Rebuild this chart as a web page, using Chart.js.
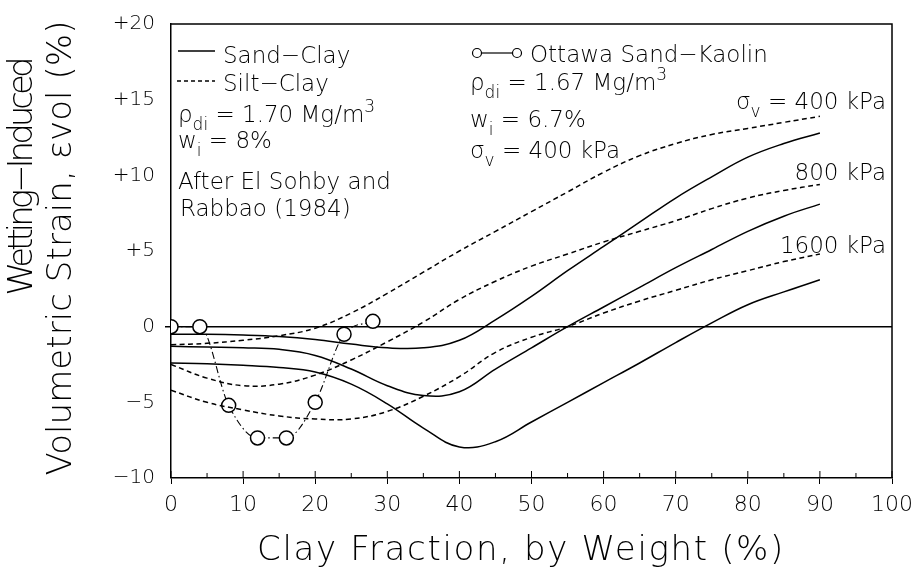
<!DOCTYPE html>
<html>
<head>
<meta charset="utf-8">
<script src="https://cdn.jsdelivr.net/npm/chart.js@4.4.1/dist/chart.umd.min.js"></script>
<style>
  html, body { margin: 0; padding: 0; background: #fff; }
  canvas { display: block; }
</style>
</head>
<body>
<canvas id="strainChart" width="921" height="570"></canvas>
<script>
// clay fraction (%) where the curves were read
var clayPct = [0, 5, 10, 15, 20, 25, 30, 35, 40, 45, 50, 55, 60, 65, 70, 75, 80, 85, 90];

// Sand-Clay (solid)
var sandClay400  = [-0.5, -0.5, -0.55, -0.65, -0.85, -1.15, -1.4, -1.4, -0.9, 0.45, 2.0, 3.7, 5.3, 6.9, 8.5, 9.9, 11.2, 12.1, 12.8];
var sandClay800  = [-1.3, -1.35, -1.4, -1.5, -1.9, -2.8, -3.9, -4.55, -4.3, -2.8, -1.4, 0.0, 1.3, 2.6, 3.9, 5.1, 6.3, 7.3, 8.1];
var sandClay1600 = [-2.4, -2.45, -2.55, -2.7, -3.0, -3.8, -5.1, -6.7, -7.95, -7.6, -6.3, -5.0, -3.7, -2.4, -1.05, 0.25, 1.45, 2.3, 3.1];

// Silt-Clay (dashed)
var siltClay400  = [-1.2, -1.1, -0.9, -0.6, -0.1, 0.9, 2.2, 3.6, 5.0, 6.3, 7.6, 8.9, 10.2, 11.3, 12.1, 12.7, 13.1, 13.5, 13.9];
var siltClay800  = [-2.5, -3.4, -3.9, -3.8, -3.2, -2.2, -1.0, 0.3, 1.8, 3.0, 4.0, 4.8, 5.6, 6.3, 7.0, 7.8, 8.5, 9.0, 9.4];
var siltClay1600 = [-4.2, -5.0, -5.5, -5.9, -6.1, -6.1, -5.6, -4.6, -3.3, -1.7, -0.7, 0.0, 0.9, 1.7, 2.4, 3.1, 3.7, 4.3, 4.8];

// Ottawa Sand-Kaolin (circles)
var ottawaPct    = [0, 4, 8, 12, 16, 20, 24, 28];
var ottawaStrain = [0, 0, -5.2, -7.35, -7.35, -5.0, -0.5, 0.35];

var yTickLabels = { '20': '+20', '15': '+15', '10': '+10', '5': '+5', '0': '0', '-5': '\u22125', '-10': '\u221210' };

var FONT = '"DejaVu Sans", sans-serif';

var toPoints = (xs, ys) => xs.map((x, i) => ({ x: x, y: ys[i] }));

var solid = (data) => ({ data: toPoints(clayPct, data), borderColor: '#000', borderWidth: 1.5, pointRadius: 0, tension: 0.4, fill: false });
var dashed = (data) => ({ data: toPoints(clayPct, data), borderColor: '#000', borderWidth: 1.5, borderDash: [5, 3.5], pointRadius: 0, tension: 0.4, fill: false });

// text with letter spacing stretched to a width
var spaced = (ctx, text, x, y, width) => {
  ctx.letterSpacing = '0px';
  var w = ctx.measureText(text).width;
  var n = Array.from(text).length;
  ctx.letterSpacing = ((width - w) / n) + 'px';
  ctx.fillText(text, x, y);
  ctx.letterSpacing = '0px';
};

// text with sub / superscripts: parts = [[text, 'sub'|'sup'|null], ...]
var rich = (ctx, parts, x, y, align) => {
  var big = '200 23px ' + FONT, small = '200 17px ' + FONT;
  var total = 0;
  parts.forEach(p => { ctx.font = p[1] ? small : big; total += ctx.measureText(p[0]).width; });
  var cx = align === 'right' ? x - total : x;
  ctx.textAlign = 'left';
  ctx.textBaseline = 'alphabetic';
  parts.forEach(p => {
    ctx.font = p[1] ? small : big;
    var dy = p[1] === 'sub' ? 8 : p[1] === 'sup' ? -10 : 0;
    ctx.fillText(p[0], cx, y + dy);
    cx += ctx.measureText(p[0]).width;
  });
};

var decorations = {
  id: 'decorations',
  afterDraw(chart) {
    var ctx = chart.ctx, a = chart.chartArea;
    var xs = chart.scales.x;
    ctx.save();
    ctx.strokeStyle = '#000';
    ctx.fillStyle = '#000';

    // frame top & right
    ctx.lineWidth = 1.5;
    ctx.beginPath();
    ctx.moveTo(a.left, a.top); ctx.lineTo(a.right, a.top); ctx.lineTo(a.right, a.bottom);
    ctx.stroke();

    // inner ticks on the x axis
    ctx.lineWidth = 1;
    xs.ticks.forEach(t => {
      var px = xs.getPixelForValue(t.value);
      var len = t.value % 10 === 0 ? 7 : 5;
      ctx.beginPath(); ctx.moveTo(px, a.bottom); ctx.lineTo(px, a.bottom - len); ctx.stroke();
    });

    // axis titles
    ctx.font = '200 34px ' + FONT;
    ctx.textAlign = 'center';
    ctx.textBaseline = 'alphabetic';
    spaced(ctx, 'Clay Fraction, by Weight (%)', 521, 560, 528);

    ctx.save();
    ctx.translate(23, 178); ctx.rotate(-Math.PI / 2);
    ctx.textBaseline = 'middle';
    spaced(ctx, 'Wetting\u2212Induced', 0, 0, 235);
    ctx.restore();
    ctx.save();
    ctx.translate(62, 248); ctx.rotate(-Math.PI / 2);
    ctx.textBaseline = 'middle';
    spaced(ctx, 'Volumetric Strain, \u03b5vol (%)', 0, 0, 455);
    ctx.restore();

    // key, left block
    ctx.lineWidth = 1.5;
    ctx.setLineDash([]);
    ctx.beginPath(); ctx.moveTo(178, 51); ctx.lineTo(215, 51); ctx.stroke();
    ctx.setLineDash([4, 3]);
    ctx.beginPath(); ctx.moveTo(177, 81); ctx.lineTo(215, 81); ctx.stroke();
    ctx.setLineDash([]);
    rich(ctx, [['Sand\u2212Clay']], 223, 63);
    rich(ctx, [['Silt\u2212Clay']], 223, 91);
    rich(ctx, [['\u03c1'], ['di', 'sub'], [' = 1.70 Mg/m'], ['3', 'sup']], 178, 122);
    rich(ctx, [['w'], ['i', 'sub'], [' = 8%']], 178, 148);
    rich(ctx, [['After El Sohby and']], 178, 189);
    rich(ctx, [['Rabbao (1984)']], 180, 216);

    // key, right block
    ctx.lineWidth = 1.2;
    ctx.beginPath(); ctx.moveTo(482, 53); ctx.lineTo(512, 53); ctx.stroke();
    [477, 517].forEach(cx => { ctx.beginPath(); ctx.arc(cx, 53, 4.5, 0, Math.PI * 2); ctx.stroke(); });
    rich(ctx, [['Ottawa Sand\u2212Kaolin']], 530, 62);
    rich(ctx, [['\u03c1'], ['di', 'sub'], [' = 1.67 Mg/m'], ['3', 'sup']], 470, 90);
    rich(ctx, [['w'], ['i', 'sub'], [' = 6.7%']], 470, 127);
    rich(ctx, [['\u03c3'], ['v', 'sub'], [' = 400 kPa']], 470, 158);

    // stress labels at line ends
    rich(ctx, [['\u03c3'], ['v', 'sub'], [' = 400 kPa']], 886, 109, 'right');
    rich(ctx, [['800 kPa']], 886, 180, 'right');
    rich(ctx, [['1600 kPa']], 886, 253, 'right');

    ctx.restore();
  }
};

new Chart(document.getElementById('strainChart'), {
  type: 'line',
  data: {
    datasets: [
      solid(sandClay400), solid(sandClay800), solid(sandClay1600),
      dashed(siltClay400), dashed(siltClay800), dashed(siltClay1600),
      {
        data: toPoints(ottawaPct, ottawaStrain),
        borderColor: '#000', borderWidth: 1.1, borderDash: [7, 3, 1.5, 3],
        cubicInterpolationMode: 'monotone',
        pointRadius: 7, pointBackgroundColor: '#fff', pointBorderColor: '#000', pointBorderWidth: 1.5,
        fill: false
      }
    ]
  },
  plugins: [decorations],
  options: {
    responsive: false,
    animation: false,
    devicePixelRatio: 1,
    layout: { padding: { top: 24, right: 24, left: 0, bottom: 0 } },
    plugins: { legend: { display: false }, tooltip: { enabled: false } },
    scales: {
      x: {
        type: 'linear', min: 0, max: 100,
        afterFit: s => { s.height = 92; },
        border: { color: '#000', width: 1.5 },
        grid: { drawOnChartArea: false, tickLength: 6, tickColor: c => (c.tick && c.tick.value % 10 === 0) ? '#000' : 'rgba(0,0,0,0)' },
        ticks: {
          stepSize: 5, autoSkip: false, maxRotation: 0, padding: 8, color: '#000',
          font: { family: FONT, size: 22, weight: '200' },
          callback: v => v % 10 === 0 ? String(v) : ''
        }
      },
      y: {
        min: -10, max: 20,
        afterFit: s => { s.width = 171; },
        border: { color: '#000', width: 1.5 },
        grid: {
          drawOnChartArea: true, tickLength: 6, tickColor: '#000',
          color: c => (c.tick && c.tick.value === 0) ? '#000' : 'rgba(0,0,0,0)',
          lineWidth: c => (c.tick && c.tick.value === 0) ? 1.5 : 0
        },
        ticks: {
          stepSize: 1, autoSkip: false, padding: 10, color: '#000',
          font: { family: FONT, size: 20, weight: '200' },
          callback: v => yTickLabels[String(v)] || ''
        }
      }
    }
  }
});
</script>
</body>
</html>
